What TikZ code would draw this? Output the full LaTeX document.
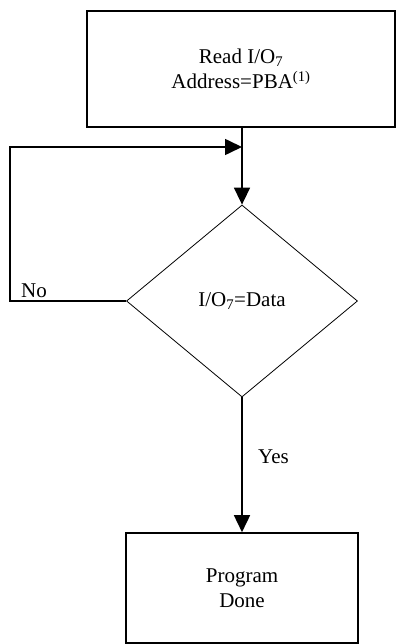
\documentclass[tikz,border=0pt]{standalone}
\usepackage{fontspec}
\setmainfont{Liberation Serif}
\usetikzlibrary{shapes.geometric,arrows.meta}
\begin{document}
\begin{tikzpicture}[x=1pt,y=-1pt,
  boxst/.style={draw,line width=1.6pt,inner sep=0pt,align=center},
  decst/.style={draw,diamond,line width=0.8pt,inner sep=0pt,aspect=1.2,
    minimum width=231pt,minimum height=192pt},
  arr/.style={line width=1.6pt,-{Triangle[length=17pt,width=16pt]}},
  conn/.style={line width=1.6pt},
  lbl/.style={inner sep=0pt}]
\useasboundingbox (0,0) rectangle (398,644);
\fontsize{21}{25}\selectfont
\node[boxst,minimum width=308pt,minimum height=116pt] (read) at (241,69)
  {Read I/O\textsubscript{7}\\Address=PBA\textsuperscript{(1)}};
\node[decst] (dia) at (242,301) {I/O\textsubscript{7}=Data};
\node[boxst,minimum width=232pt,minimum height=110pt] (done) at (242,588)
  {Program\\Done};
\coordinate (corner) at (10,301);
\coordinate (join) at (242,147);
\draw[arr] (read.south -| dia.north) -- (dia.north);
\draw[arr] (dia.west) -- (corner) |- (join);
\draw[arr] (dia.south) -- (done.north);
\node[lbl,anchor=base west] (no) at (21,297) {No};
\node[lbl,anchor=base west] (yes) at (258,463) {Yes};
\end{tikzpicture}
\end{document}
